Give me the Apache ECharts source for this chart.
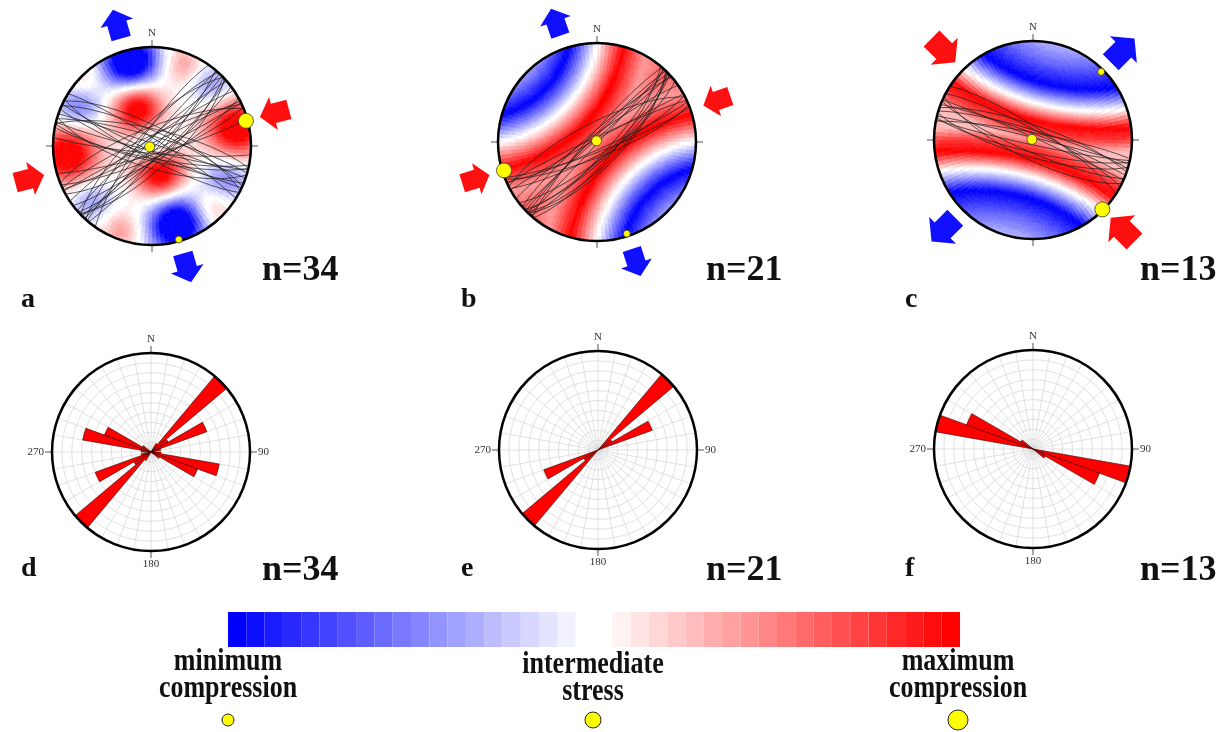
<!DOCTYPE html>
<html><head><meta charset="utf-8">
<script src="https://cdn.jsdelivr.net/npm/echarts@6/dist/echarts.min.js"></script>
<style>html,body{margin:0;padding:0;background:#fff}#c{width:1227px;height:732px}</style>
</head><body><div id="c"></div>
<script>
// ================= DATA =================
const panelLettersTop = ['a', 'b', 'c'];
const panelLettersBottom = ['d', 'e', 'f'];
const nCounts = [34, 21, 13];

// fault planes [strike, dip] (right-hand rule), read from the stereonets
const planesA = [[40,82],[222,78],[45,86],[226,74],[48,80],[43,88],[229,84],[47,72],[221,86],[46,77],
  [53,80],[236,84],[61,78],[245,82],[64,86],[248,75],[67,80],[243,88],[74,83],[215,80],[95,84],
  [101,80],[283,76],[104,86],[286,82],[107,72],[289,88],[103,78],[112,82],[294,78],[115,86],[297,74],[118,80],[302,84]];
const planesB = [[42,80],[224,85],[46,78],[228,88],[45,72],[221,83],[47,76],[43,89],[229,82],[40,75],[226,86],[44,70],
  [62,80],[245,86],[68,78],[243,74],[66,84],[241,88],[69,82],[52,77],[235,84]];
const planesC = [[281,84],[103,80],[284,88],[106,76],[287,82],[102,86],[289,78],
  [291,85],[113,80],[294,88],[116,74],[298,82],[303,80]];

// principal stress axes [trend, plunge]: sigma1, sigma2, sigma3
const stressA = [[75,2],[250,88],[164,2]];
const stressB = [[253,2],[340,89],[162,3]];
const stressC = [[135,1],[300,89],[45,3]];
const stressDotSizes = [15, 10, 7];

// horizontal stress arrows [azimuth, type] c = compression (inward), t = tension (outward)
const arrowsA = [[75,'c'],[255,'c'],[344,'t'],[164,'t']];
const arrowsB = [[71,'c'],[253,'c'],[341,'t'],[162,'t']];
const arrowsC = [[315,'c'],[135,'c'],[45,'t'],[225,'t']];

// rose diagrams: strike counts per 10° bin, 0-180 (plotted bidirectionally)
const roseBinsD = [0,0,0,1,10,2,6,1,0,1,7,5,1,0,0,0,0,0];
const roseBinsE = [0,0,0,0,12,2,7,0,0,0,0,0,0,0,0,0,0,0];
const roseBinsF = [0,0,0,0,0,0,0,0,0,0,7,5,1,0,0,0,0,0];

// stress field (panel a): anomalies [x, y, amplitude, width] in unit-circle coords
const fieldBlobsA = [
  [-0.15,0.38,1.15,0.18],[0.08,-0.28,1.15,0.18],[-0.85,-0.08,1.2,0.22],[0.85,0.18,1.2,0.22],
  [-0.22,0.86,-1.4,0.2],[0.25,-0.8,-1.4,0.2],
  [-0.75,0.38,-0.6,0.18],[0.75,-0.34,-0.55,0.18],[0.62,0.6,-0.45,0.17],[-0.62,-0.55,-0.4,0.17],
  [0.32,0.82,0.4,0.15],[-0.7,0.68,0.3,0.14],[0.62,-0.62,0.4,0.15],[-0.32,-0.86,0.4,0.15],
  [0,0,-0.5,0.13]];
// stress field (panels b, c): ring sources, distance scale, rotation, value profile [distance, value]
const ringSourcesB = [[-1.2,1.2],[1.2,-1.2]];
const ringScaleB = [1,1];
const ringRotB = 0;
const ringProfileB = [[0,-0.1],[0.45,-0.12],[0.68,-0.35],[0.95,-1],[1.22,0],[1.48,1],[1.72,0.4],[2.0,0.7]];
const ringSourcesC = [[0,1.3],[0,-1.3]];
const ringScaleC = [1.6,1];
const ringRotC = 14;
const ringProfileC = [[0,-0.2],[0.3,-0.3],[0.5,-0.6],[0.72,-1],[0.93,0],[1.1,1],[1.22,0.75],[1.32,0.3]];

// colour scale labels
const scaleLabels = [['minimum','compression'],['intermediate','stress'],['maximum','compression']];

// ================= HELPERS =================
const D2R = Math.PI/180;
function eqArea(trend, plunge){ return [Math.SQRT2*Math.sin((90-plunge)/2*D2R), trend]; }
function greatCircle(strike, dip){
  const dd = strike + 90, pts = [];
  const sv = [Math.sin(strike*D2R), Math.cos(strike*D2R)];
  const dv = [Math.cos(dip*D2R)*Math.sin(dd*D2R), Math.cos(dip*D2R)*Math.cos(dd*D2R), Math.sin(dip*D2R)];
  for (let k=0;k<=90;k++){
    const t = k*2*D2R;
    const e = Math.cos(t)*sv[0]+Math.sin(t)*dv[0];
    const n = Math.cos(t)*sv[1]+Math.sin(t)*dv[1];
    const d = Math.sin(t)*dv[2];
    const pl = Math.asin(Math.max(-1,Math.min(1,d)))/D2R;
    let tr = Math.atan2(e,n)/D2R; if (tr<0) tr+=360;
    pts.push(eqArea(tr,pl));
  }
  return pts;
}
function profileVal(prof, d){
  if (d <= prof[0][0]) return prof[0][1];
  for (let i=1;i<prof.length;i++){
    if (d <= prof[i][0]){
      const d0=prof[i-1][0], v0=prof[i-1][1], d1=prof[i][0], v1=prof[i][1];
      const t=(d-d0)/(d1-d0);
      return v0+(v1-v0)*t;
    }
  }
  return prof[prof.length-1][1];
}
function ringField(sources, scale, rot, prof){
  return function(x,y){
    const p=rot*D2R;
    const u=x*Math.cos(p)-y*Math.sin(p), v=x*Math.sin(p)+y*Math.cos(p);
    let dm=Infinity;
    sources.forEach(s=>{ dm=Math.min(dm, Math.hypot((u-s[0])/scale[0],(v-s[1])/scale[1])); });
    return profileVal(prof, dm);
  };
}
function blobField(blobs){
  return function(x,y){
    let v=0;
    blobs.forEach(b=>{ const d2=(x-b[0])**2+(y-b[1])**2; v+=b[2]*Math.exp(-d2/(2*b[3]*b[3])); });
    return v;
  };
}
const fieldModels = [blobField(fieldBlobsA), ringField(ringSourcesB,ringScaleB,ringRotB,ringProfileB), ringField(ringSourcesC,ringScaleC,ringRotC,ringProfileC)];

const NR = 44, NA = 144;
function fieldData(model){
  const data=[];
  for (let i=0;i<NR;i++) for (let j=0;j<NA;j++){
    const r0=i/NR, r1=(i+1)/NR, a0=j*360/NA, a1=(j+1)*360/NA;
    const rc=(r0+r1)/2, ac=(a0+a1)/2*D2R;
    let v=model(rc*Math.sin(ac), rc*Math.cos(ac));
    v=Math.max(-0.999,Math.min(0.999,v));
    data.push([r0,r1,a0,a1,v]);
  }
  return data;
}
function renderCell(params, api){
  const cs=params.coordSys;
  const r0=api.value(0), r1=api.value(1), a0=api.value(2), a1=api.value(3);
  const pIn=api.coord([r0,a0]);
  const pA=api.coord([r1,a0]), pB=api.coord([r1,a1]);
  const rad0=Math.hypot(pIn[0]-cs.cx,pIn[1]-cs.cy);
  const rad1=Math.hypot(pA[0]-cs.cx,pA[1]-cs.cy);
  let sA=Math.atan2(pA[1]-cs.cy,pA[0]-cs.cx), sB=Math.atan2(pB[1]-cs.cy,pB[0]-cs.cx);
  if (sB<sA) sB+=2*Math.PI;
  const col=api.visual('color');
  return {type:'sector', shape:{cx:cs.cx, cy:cs.cy, r0:rad0, r:rad1, startAngle:sA, endAngle:sB, clockwise:true},
    style:{fill:col, stroke:col, lineWidth:0.6}};
}

// ================= LAYOUT =================
const stereoCenters=[[152,146],[597,142],[1033,140]];
const roseCenters=[[151,452],[598,450],[1033,449]];
const RAD=99;
const ARROW_SPAN=1.45;
const arrowScale=[1, 0.95, 1.12];
const SERIF='Liberation Serif';

const polar=[], angleAxis=[], radiusAxis=[], series=[];
stereoCenters.forEach(c=>polar.push({center:c, radius:RAD}));
roseCenters.forEach(c=>polar.push({center:c, radius:RAD}));
roseCenters.forEach(c=>polar.push({center:c, radius:RAD}));
stereoCenters.forEach(c=>polar.push({center:c, radius:RAD*ARROW_SPAN}));

function frameAxis(i, labels){
  return {polarIndex:i, type:'value', min:0, max:360, interval:90, startAngle:90, clockwise:true, z:4,
    axisLine:{show:true, lineStyle:{color:'#000', width:2.5}},
    axisTick:{show:true, length:7, lineStyle:{color:'#555', width:1}},
    axisLabel:{show:true, margin:8, fontFamily:SERIF, fontSize:11, color:'#333', formatter:v=>labels[v]||''},
    splitLine:{show:false}};
}
for (let i=0;i<3;i++){
  angleAxis.push(frameAxis(i, {0:'N'}));
  radiusAxis.push({polarIndex:i, type:'value', min:0, max:1, show:false});
}
const roseBins=[roseBinsD,roseBinsE,roseBinsF];
const binLabels=[]; for (let k=0;k<36;k++) binLabels.push(String(k*10));
for (let k=0;k<3;k++){
  const mx=Math.max(...roseBins[k]);
  angleAxis.push({polarIndex:3+k, type:'category', data:binLabels, startAngle:90, clockwise:true, boundaryGap:true, z:0,
    axisLine:{show:false}, axisTick:{show:false}, axisLabel:{show:false, interval:0},
    splitLine:{show:true, interval:0, lineStyle:{color:'#d4d4d4', width:0.7}}});
  radiusAxis.push({polarIndex:3+k, type:'value', min:0, max:mx, interval:mx/10, z:0,
    axisLine:{show:false}, axisTick:{show:false}, axisLabel:{show:false},
    splitLine:{show:true, lineStyle:{color:'#d4d4d4', width:0.7}}});
}
for (let k=0;k<3;k++){
  angleAxis.push(frameAxis(6+k, {0:'N',90:'90',180:'180',270:'270'}));
  radiusAxis.push({polarIndex:6+k, type:'value', min:0, max:1, show:false});
}
for (let k=0;k<3;k++){
  angleAxis.push({polarIndex:9+k, type:'value', min:0, max:360, startAngle:90, clockwise:true, show:false});
  radiusAxis.push({polarIndex:9+k, type:'value', min:0, max:ARROW_SPAN, show:false});
}

// field series (indices 0..2)
fieldModels.forEach((m,i)=>{
  series.push({type:'custom', coordinateSystem:'polar', polarIndex:i, data:fieldData(m), renderItem:renderCell,
    silent:true, z:1, animation:false, dimensions:['r0','r1','a0','a1','v'], encode:{radius:0, angle:2}});
});
// great circles
[planesA,planesB,planesC].forEach((pl,i)=>{
  pl.forEach(p=>{
    series.push({type:'line', coordinateSystem:'polar', polarIndex:i, data:greatCircle(p[0],p[1]), showSymbol:false, symbol:'none',
      silent:true, z:3, animation:false, lineStyle:{color:'#1c1c1c', width:0.8, opacity:0.9}});
  });
});
// stress axes dots
[stressA,stressB,stressC].forEach((st,i)=>{
  series.push({type:'scatter', coordinateSystem:'polar', polarIndex:i, silent:true, z:6, animation:false,
    data: st.map((s,k)=>({value:eqArea(s[0],s[1]), symbolSize:stressDotSizes[k]})),
    itemStyle:{color:'#ffff00', borderColor:'#333', borderWidth:0.8, opacity:1}});
});
// arrows (in the wider polar around each stereonet)
const ARROW='path://M0,0 L17,14 L10,14 L10,30 L-10,30 L-10,14 L-17,14 Z';
[arrowsA,arrowsB,arrowsC].forEach((ar,i)=>{
  series.push({type:'scatter', coordinateSystem:'polar', polarIndex:9+i, silent:true, z:6, animation:false,
    symbol:ARROW, symbolSize:[34*arrowScale[i],30*arrowScale[i]],
    data: ar.map(a=>({value:[1.28,a[0]], symbolRotate: a[1]==='c' ? -(a[0]+180) : -a[0],
      itemStyle:{color: a[1]==='c' ? '#ff1010' : '#1010ff', opacity:1}}))});
});
// rose bars
roseBins.forEach((b,k)=>{
  const full=[]; for (let j=0;j<36;j++) full.push(b[j%18]);
  series.push({type:'bar', coordinateSystem:'polar', polarIndex:3+k, data:full, barCategoryGap:'0%', barGap:'0%',
    silent:true, z:3, animation:false, itemStyle:{color:'#ff0000', borderColor:'#400000', borderWidth:0.6}});
});

// colour scale pieces
const pieces=[];
for (let k=0;k<40;k++){
  const lo=-1+k*0.05, hi=lo+0.05; let col;
  if (k<19){ const l=Math.round(255*k/19); col=`rgb(${l},${l},255)`; }
  else if (k<21) col='#ffffff';
  else { const l=Math.round(255*(39-k)/19); col=`rgb(255,${l},${l})`; }
  pieces.push({min:lo, max:hi, color:col});
}

// texts
const graphic=[];
function txt(t,x,y,size){
  graphic.push({type:'text', x, y, silent:true, z:20,
    style:{text:t, fontFamily:SERIF, fontWeight:'bold', fontSize:size, fill:'#111',
      align:'left', verticalAlign:'middle', textAlign:'left', textVerticalAlign:'middle'}});
}
const nX=[262,706,1140];
nCounts.forEach((n,i)=>{ txt('n='+n, nX[i], 271, 36); txt('n='+n, nX[i], 571, 36); });
const letX=[21,461,905];
panelLettersTop.forEach((l,i)=>txt(l, letX[i], 300, 28));
panelLettersBottom.forEach((l,i)=>txt(l, letX[i], 569, 28));
const lblX=[228,593,958];
scaleLabels.forEach((ls,i)=>{
  ls.forEach((s,j)=>{
    graphic.push({type:'text', x:lblX[i], y:(i===1?665:662)+j*27, scaleY:1.2, silent:true, z:20,
      style:{text:s, fontFamily:SERIF, fontWeight:'bold', fontSize:26, fill:'#111',
        align:'center', verticalAlign:'middle', textAlign:'center', textVerticalAlign:'middle'}});
  });
});
const dotR=[6,8,10];
lblX.forEach((x,i)=>graphic.push({type:'circle', shape:{cx:x, cy:720, r:dotR[i]}, silent:true, z:20,
  style:{fill:'#ffff00', stroke:'#222', lineWidth:1}}));

const chart=echarts.init(document.getElementById('c'));
chart.setOption({
  animation:false,
  backgroundColor:'#ffffff',
  polar, angleAxis, radiusAxis, series, graphic,
  visualMap:[{type:'piecewise', seriesIndex:[0,1,2], dimension:4, pieces, orient:'horizontal',
    left:228, top:612, itemWidth:18.3, itemHeight:35, itemGap:0, itemSymbol:'rect', showLabel:false,
    selectedMode:false, hoverLink:false, padding:0, textGap:0}]
});
</script></body></html>
